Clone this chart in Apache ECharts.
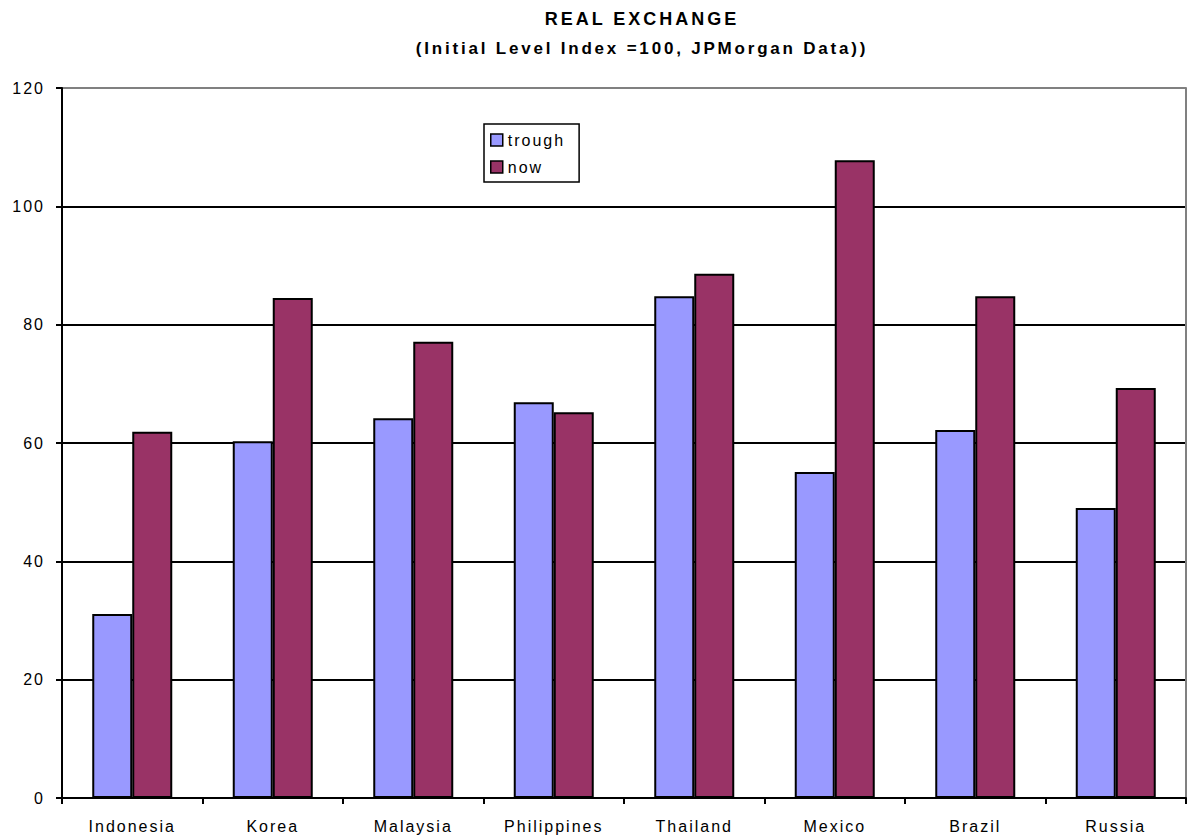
<!DOCTYPE html>
<html><head><meta charset="utf-8">
<script src="https://cdn.jsdelivr.net/npm/echarts@6/dist/echarts.min.js"></script>
<style>
html,body{margin:0;padding:0;background:#fff}
#c{width:1188px;height:836px}
#c text{letter-spacing:2px}
#c text[style*="18px"]{letter-spacing:3px}
#c text[style*="17px"]{letter-spacing:2.8px}
</style>
</head><body><div id="c"></div>
<script>
const categories = ['Indonesia','Korea','Malaysia','Philippines','Thailand','Mexico','Brazil','Russia'];
const trough = [31.1, 60.3, 64.2, 66.9, 84.8, 55.1, 62.2, 49.0];
const now = [61.9, 84.5, 77.1, 65.2, 88.6, 107.8, 84.8, 69.3];
const yTicks = [0, 20, 40, 60, 80, 100, 120];

const chart = echarts.init(document.getElementById('c'), null, {renderer:'svg'});
const font = 'Liberation Sans, Arial, sans-serif';
chart.setOption({
  animation:false,
  backgroundColor:'#fff',
  title:{
    text:'REAL EXCHANGE',
    subtext:'(Initial Level Index =100, JPMorgan Data))',
    left:642, top:10, textAlign:'center', itemGap:12, padding:0,
    textStyle:{fontFamily:font, fontWeight:'bold', fontSize:18, lineHeight:18, color:'#000'},
    subtextStyle:{fontFamily:font, fontWeight:'bold', fontSize:17, lineHeight:17, color:'#000'}
  },
  legend:{
    orient:'vertical', left:484, top:124,
    data:['trough','now'],
    borderColor:'#000', borderWidth:1.5,
    padding:[8,26,7,6], itemGap:11,
    itemWidth:12, itemHeight:12, icon:'rect',
    itemStyle:{borderColor:'#000', borderWidth:1.5},
    textStyle:{fontFamily:font, fontSize:16, lineHeight:16, color:'#000'}
  },
  grid:{left:62, right:2, top:88, bottom:38, containLabel:false},
  xAxis:{
    type:'category', data:categories,
    axisLine:{lineStyle:{color:'#000', width:2}},
    axisTick:{show:true, length:6, lineStyle:{color:'#000', width:2}},
    axisLabel:{fontFamily:font, fontSize:16, color:'#000', margin:20}
  },
  yAxis:[{
    type:'value', min:0, max:120, interval:20,
    axisLine:{show:true, lineStyle:{color:'#000', width:2}},
    axisTick:{show:true, length:6, lineStyle:{color:'#000', width:2}},
    axisLabel:{fontFamily:font, fontSize:16, color:'#000', margin:17,
      formatter:v=> yTicks.includes(v) ? String(v) : ''},
    splitLine:{lineStyle:{color:['#000','#000','#000','#000','#000','#000','#808080'], width:2}}
  },{
    type:'value', min:0, max:120, interval:20, position:'right',
    axisLine:{show:true, lineStyle:{color:'#808080', width:2}},
    axisTick:{show:false}, axisLabel:{show:false}, splitLine:{show:false}
  }],
  series:[
    {name:'trough', type:'bar', data:trough, barWidth:40, barGap:'0%',
     itemStyle:{color:'#9999ff', borderColor:'#000', borderWidth:2}},
    {name:'now', type:'bar', data:now, barWidth:40, barGap:'0%',
     itemStyle:{color:'#993366', borderColor:'#000', borderWidth:2}}
  ]
});
</script></body></html>
